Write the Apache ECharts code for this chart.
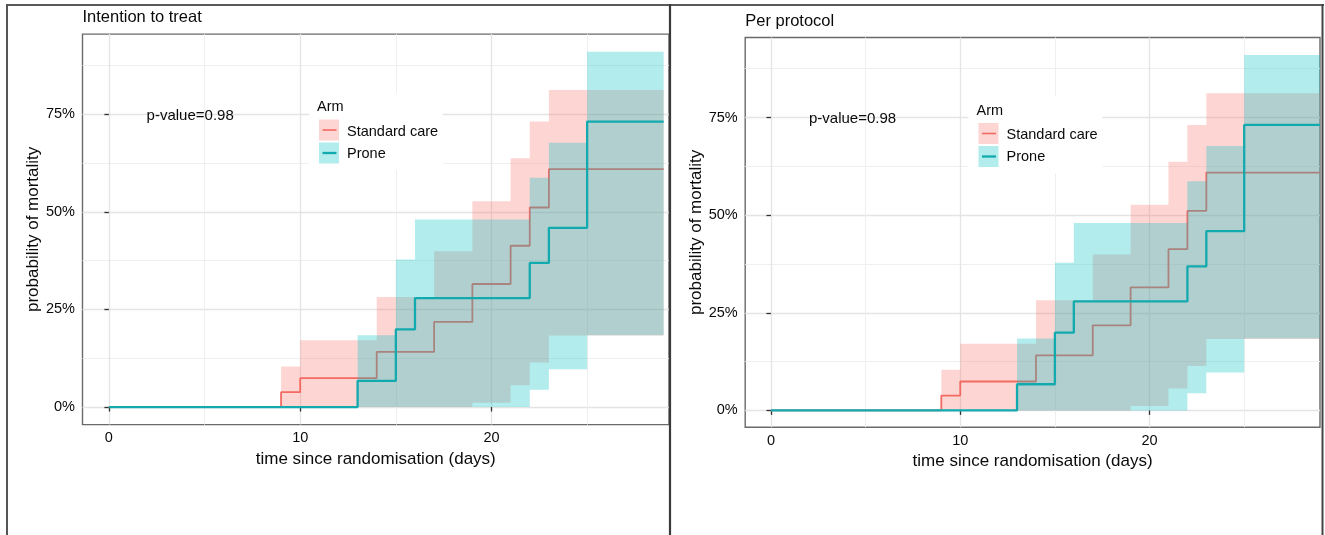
<!DOCTYPE html>
<html><head><meta charset="utf-8">
<script src="https://cdn.jsdelivr.net/npm/echarts@6/dist/echarts.min.js"></script>
<style>html,body{margin:0;padding:0;background:#fff}#c{width:1325px;height:535px}</style>
</head><body><div id="c"></div>
<script>
// ---- Data (percent mortality, Kaplan-Meier step functions) ----
const scTimes = [0, 9, 10, 14, 17, 19, 21, 22, 23, 29];
const scMort  = [0, 3.8, 7.4, 14.1, 21.8, 31.5, 41.3, 51.1, 60.9, 60.9];
const scUpper = [0, 10.4, 17.1, 28.2, 39.9, 52.7, 63.7, 73.1, 81.2, 81.2];
const scLower = [0, 0, 0, 0, 0, 1.1, 5.6, 11.4, 18.3, 18.3];
const prTimes = [0, 13, 15, 16, 22, 23, 25, 29];
const prMort  = [0, 6.7, 19.9, 27.9, 36.9, 45.9, 73.1, 73.1];
const prUpper = [0, 18.4, 37.8, 48.0, 58.7, 67.7, 91.0, 91.0];
const prLower = [0, 0, 0, 0, 4.4, 9.7, 18.4, 18.4];
const xMajorTicks = [0, 10, 20];
const xMinorTicks = [5, 15, 25];
const yMajorTicks = [0, 25, 50, 75];
const yMinorTicks = [12.5, 37.5, 62.5, 87.5];
const panelTitles = ['Intention to treat', 'Per protocol'];
const armNames = ['Standard care', 'Prone'];
const legendTitle = 'Arm';
const pValueText = 'p-value=0.98';
const xTitle = 'time since randomisation (days)';
const yTitle = 'probability of mortality';

// ---- Styling / layout ----
const FONT = 'Liberation Sans, Arial, Helvetica, sans-serif';
const TXT = '#0a0a0a';
const RED = '#F26A62', TEAL = '#12AAAE';
const RED_FILL = 'rgba(248,118,109,0.3)', TEAL_FILL = 'rgba(0,191,196,0.3)';
const panels = [
  {left: 82.5, top: 34.1, right: 669, bottom: 424.6, xMin: -1.38, pxPerDay: 19.13, yMin: -4.5, yMax: 95.5,
   titleTop: 9, legendDx: 0, legendDy: 0, pX: 146.6, pY: 116},
  {left: 745.2, top: 37.5, right: 1320, bottom: 427.2, xMin: -1.36, pxPerDay: 18.93, yMin: -4.3, yMax: 95.5,
   titleTop: 12.5, legendDx: 659.5, legendDy: 3.5, pX: 809, pY: 118.4}
];

function bandRender(times, lower, upper, color) {
  return function (params, api) {
    if (params.dataIndex !== 0) return null;
    const pts = [];
    for (let i = 0; i < times.length - 1; i++) {
      pts.push(api.coord([times[i], upper[i]]));
      pts.push(api.coord([times[i + 1], upper[i]]));
    }
    for (let i = times.length - 2; i >= 0; i--) {
      pts.push(api.coord([times[i + 1], lower[i]]));
      pts.push(api.coord([times[i], lower[i]]));
    }
    return {type: 'polygon', shape: {points: pts}, style: {fill: color}};
  };
}

const grid = [], xAxis = [], yAxis = [], series = [], title = [], graphic = [];
panels.forEach((p, k) => {
  const xMax = p.xMin + (p.right - p.left) / p.pxPerDay;
  grid.push({left: p.left, top: p.top, width: p.right - p.left, height: p.bottom - p.top,
    show: true, borderColor: '#6a6a6a', borderWidth: 1.4, backgroundColor: '#fff'});
  xAxis.push({type: 'value', gridIndex: k, min: p.xMin, max: xMax, position: 'bottom',
    axisLine: {show: false},
    axisTick: {show: true, length: 4.5, customValues: xMajorTicks, lineStyle: {color: '#333', width: 1.3}},
    axisLabel: {customValues: xMajorTicks, margin: 6, fontSize: 14.5, color: TXT, fontFamily: FONT},
    splitLine: {show: true, lineStyle: {color: '#e4e4e4', width: 1.3}},
    name: xTitle, nameLocation: 'middle', nameGap: 23,
    nameTextStyle: {fontSize: 17, color: TXT, fontFamily: FONT}});
  xAxis.push({type: 'value', gridIndex: k, min: p.xMin, max: xMax, position: 'bottom',
    axisLine: {show: false}, axisTick: {show: false, customValues: xMinorTicks}, axisLabel: {show: false},
    splitLine: {show: true, lineStyle: {color: '#efefef', width: 1}}});
  yAxis.push({type: 'value', gridIndex: k, min: p.yMin, max: p.yMax, position: 'left',
    axisLine: {show: false},
    axisTick: {show: true, length: 4.5, customValues: yMajorTicks, lineStyle: {color: '#333', width: 1.3}},
    axisLabel: {customValues: yMajorTicks, margin: 7.5, fontSize: 14.5, color: TXT, fontFamily: FONT,
      formatter: v => v + '%'},
    splitLine: {show: true, lineStyle: {color: '#e4e4e4', width: 1.3}},
    name: yTitle, nameLocation: 'middle', nameGap: 39,
    nameTextStyle: {fontSize: 17, color: TXT, fontFamily: FONT}});
  yAxis.push({type: 'value', gridIndex: k, min: p.yMin, max: p.yMax, position: 'left',
    axisLine: {show: false}, axisTick: {show: false, customValues: yMinorTicks}, axisLabel: {show: false},
    splitLine: {show: true, lineStyle: {color: '#efefef', width: 1}}});

  const xi = 2 * k, yi = 2 * k;
  series.push({type: 'custom', name: armNames[0] + ' CI', xAxisIndex: xi, yAxisIndex: yi, silent: true, clip: true, z: 2,
    data: scTimes.map((t, i) => [t, scLower[i], scUpper[i]]), encode: {x: 0, y: [1, 2]},
    renderItem: bandRender(scTimes, scLower, scUpper, RED_FILL)});
  series.push({type: 'line', name: armNames[0], xAxisIndex: xi, yAxisIndex: yi, step: 'end', silent: true, z: 3,
    showSymbol: false, symbol: 'none', data: scTimes.map((t, i) => [t, scMort[i]]),
    lineStyle: {color: RED, width: 1.8}});
  series.push({type: 'custom', name: armNames[1] + ' CI', xAxisIndex: xi, yAxisIndex: yi, silent: true, clip: true, z: 4,
    data: prTimes.map((t, i) => [t, prLower[i], prUpper[i]]), encode: {x: 0, y: [1, 2]},
    renderItem: bandRender(prTimes, prLower, prUpper, TEAL_FILL)});
  series.push({type: 'line', name: armNames[1], xAxisIndex: xi, yAxisIndex: yi, step: 'end', silent: true, z: 5,
    showSymbol: false, symbol: 'none', data: prTimes.map((t, i) => [t, prMort[i]]),
    lineStyle: {color: TEAL, width: 2.3}});

  title.push({text: panelTitles[k], left: p.left, top: p.titleTop, padding: 0,
    textStyle: {fontSize: 16.5, fontWeight: 'normal', color: TXT, fontFamily: FONT}});

  // p-value annotation
  graphic.push({type: 'text', z: 100, x: p.pX, y: p.pY,
    style: {text: pValueText, font: '15px ' + FONT, fill: TXT, verticalAlign: 'middle', align: 'left'}});

  // legend (ggplot-style key: ribbon box + line)
  const dx = p.legendDx, dy = p.legendDy;
  graphic.push({type: 'rect', z: 100, shape: {x: 309 + dx, y: 93 + dy, width: 134, height: 77}, style: {fill: '#fff'}});
  graphic.push({type: 'text', z: 101, x: 317 + dx, y: 107 + dy,
    style: {text: legendTitle, font: '14.5px ' + FONT, fill: TXT, verticalAlign: 'middle'}});
  graphic.push({type: 'rect', z: 101, shape: {x: 319 + dx, y: 119.5 + dy, width: 20, height: 21}, style: {fill: RED_FILL}});
  graphic.push({type: 'line', z: 102, shape: {x1: 322.5 + dx, y1: 130 + dy, x2: 336.5 + dx, y2: 130 + dy},
    style: {stroke: RED, lineWidth: 1.6}});
  graphic.push({type: 'rect', z: 101, shape: {x: 319 + dx, y: 142.5 + dy, width: 20, height: 21}, style: {fill: TEAL_FILL}});
  graphic.push({type: 'line', z: 102, shape: {x1: 322.5 + dx, y1: 153 + dy, x2: 336.5 + dx, y2: 153 + dy},
    style: {stroke: TEAL, lineWidth: 2.3}});
  graphic.push({type: 'text', z: 101, x: 347 + dx, y: 131.5 + dy,
    style: {text: armNames[0], font: '14.5px ' + FONT, fill: TXT, verticalAlign: 'middle'}});
  graphic.push({type: 'text', z: 101, x: 347 + dx, y: 153.5 + dy,
    style: {text: armNames[1], font: '14.5px ' + FONT, fill: TXT, verticalAlign: 'middle'}});
});

// outer frame and divider
graphic.push({type: 'line', z: 120, shape: {x1: 6, y1: 5, x2: 1324, y2: 5}, style: {stroke: '#5a5a5a', lineWidth: 2}});
graphic.push({type: 'line', z: 120, shape: {x1: 7, y1: 4, x2: 7, y2: 535}, style: {stroke: '#555', lineWidth: 2}});
graphic.push({type: 'line', z: 120, shape: {x1: 670, y1: 4, x2: 670, y2: 535}, style: {stroke: '#3a3a3a', lineWidth: 2.2}});
graphic.push({type: 'line', z: 120, shape: {x1: 1322.5, y1: 4, x2: 1322.5, y2: 535}, style: {stroke: '#444', lineWidth: 2}});

const chart = echarts.init(document.getElementById('c'), null, {renderer: 'canvas'});
chart.setOption({animation: false, backgroundColor: '#fff', textStyle: {fontFamily: FONT},
  title, grid, xAxis, yAxis, series, graphic});
</script></body></html>
